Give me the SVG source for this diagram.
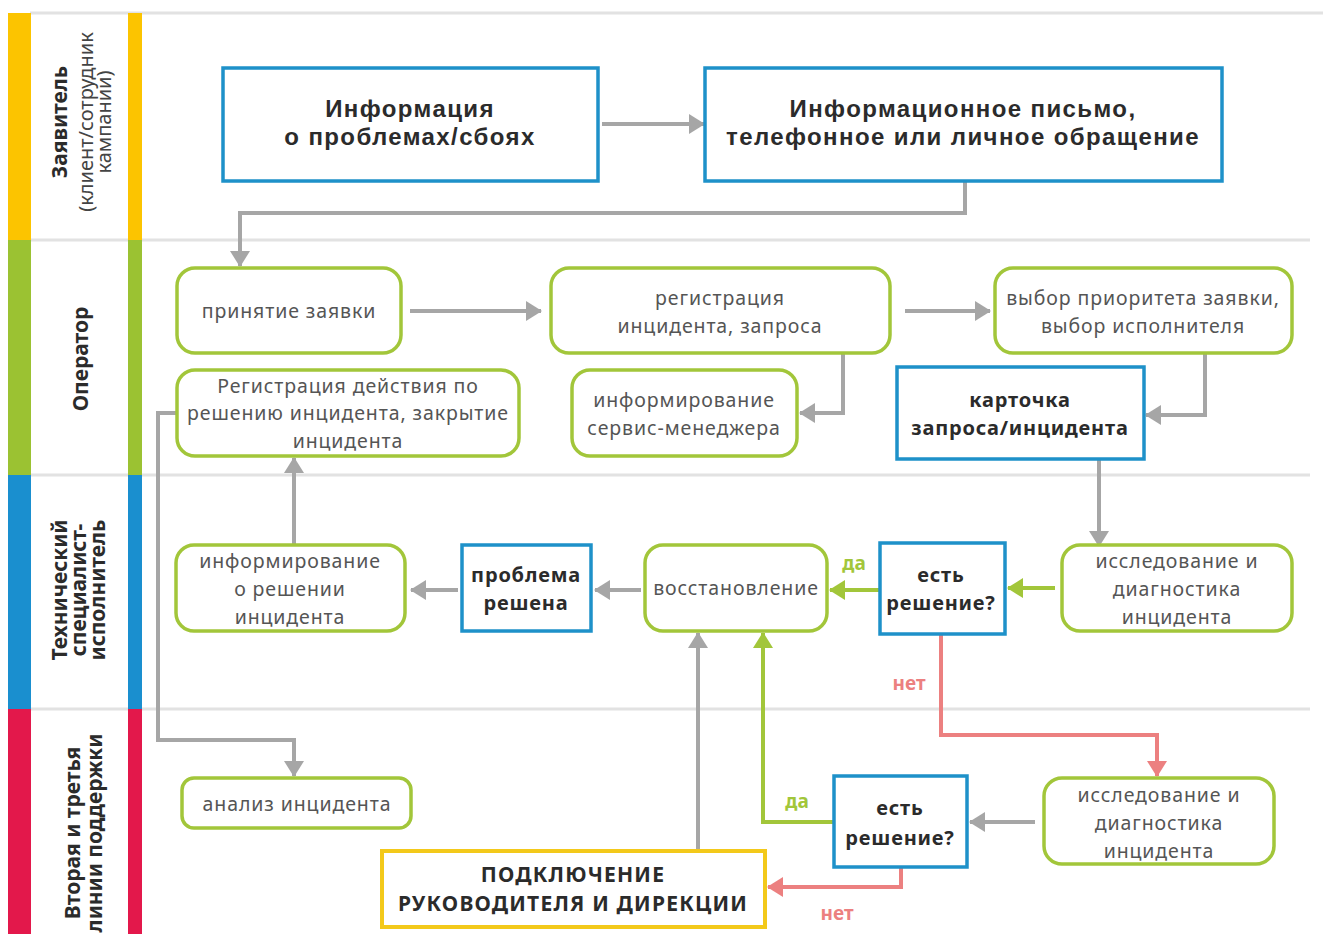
<svg xmlns="http://www.w3.org/2000/svg" width="1323" height="934" viewBox="0 0 1323 934">
<defs>
<style>
.t{font-family:"Noto Sans","Open Sans","Liberation Sans",sans-serif;font-size:19.5px;letter-spacing:0.9px;fill:#555;text-anchor:middle}
.b{font-family:"Noto Sans","Open Sans","Liberation Sans",sans-serif;font-size:20px;letter-spacing:0.8px;font-weight:bold;fill:#2b2b2b;text-anchor:middle}
.cap{font-family:"Noto Sans","Open Sans","Liberation Sans",sans-serif;font-size:21px;letter-spacing:1.2px;font-weight:bold;fill:#2b2b2b;text-anchor:middle}
.big{font-family:"Liberation Sans","Noto Sans",sans-serif;font-size:24px;letter-spacing:1.4px;font-weight:bold;fill:#2b2b2b;text-anchor:middle}
.lane{font-family:"Noto Sans","Open Sans","Liberation Sans",sans-serif;font-size:21px;font-weight:bold;fill:#2b2b2b;text-anchor:middle}
.lanes{font-family:"Noto Sans","Open Sans","Liberation Sans",sans-serif;font-size:20px;fill:#444;text-anchor:middle}
.g{fill:#fff;stroke:#a2c63a;stroke-width:3.5}
.bl{fill:#fff;stroke:#1e91c9;stroke-width:3.5}
.ye{fill:#fff;stroke:#f3c91a;stroke-width:4}
.cg{fill:none;stroke:#a6a6a6;stroke-width:4;marker-end:url(#ag)}
.cgr{fill:none;stroke:#a2c63a;stroke-width:4;marker-end:url(#agr)}
.cp{fill:none;stroke:#ec8080;stroke-width:4;marker-end:url(#ap)}
.sep{stroke:#e2e2e2;stroke-width:3}
.lg{font-family:"Noto Sans","Open Sans","Liberation Sans",sans-serif;font-size:19px;font-weight:bold;text-anchor:middle}
</style>
<marker id="ag" viewBox="0 0 16 20" refX="15" refY="10" markerWidth="16" markerHeight="20" markerUnits="userSpaceOnUse" orient="auto"><path d="M0,0 L16,10 L0,20 z" fill="#a6a6a6"/></marker>
<marker id="agr" viewBox="0 0 16 20" refX="15" refY="10" markerWidth="16" markerHeight="20" markerUnits="userSpaceOnUse" orient="auto"><path d="M0,0 L16,10 L0,20 z" fill="#a2c63a"/></marker>
<marker id="ap" viewBox="0 0 16 20" refX="15" refY="10" markerWidth="16" markerHeight="20" markerUnits="userSpaceOnUse" orient="auto"><path d="M0,0 L16,10 L0,20 z" fill="#ec8080"/></marker>
</defs>
<rect width="1323" height="934" fill="#fff"/>
<g id="lanes">
<line x1="30" y1="13" x2="1323" y2="13" class="sep" stroke-width="2"/>
<line x1="30" y1="240" x2="1310" y2="240" class="sep"/>
<line x1="30" y1="475" x2="1310" y2="475" class="sep"/>
<line x1="30" y1="709" x2="1310" y2="709" class="sep"/>
<rect x="8" y="13" width="23" height="227" fill="#fcc400"/>
<rect x="8" y="240" width="23" height="235" fill="#9bc232"/>
<rect x="8" y="475" width="23" height="234" fill="#1a8fcf"/>
<rect x="8" y="709" width="23" height="225" fill="#e3184b"/>
<rect x="128" y="13" width="14" height="227" fill="#fcc400"/>
<rect x="128" y="240" width="14" height="235" fill="#9bc232"/>
<rect x="128" y="475" width="14" height="234" fill="#1a8fcf"/>
<rect x="128" y="709" width="14" height="225" fill="#e3184b"/>
<text class="lane" transform="translate(67,122) rotate(-90)">Заявитель</text>
<text class="lanes" transform="translate(93,122) rotate(-90)">(клиент/сотрудник</text>
<text class="lanes" transform="translate(111,122) rotate(-90)">кампании)</text>
<text class="lane" transform="translate(88,359) rotate(-90)">Оператор</text>
<text class="lane" transform="translate(67,590) rotate(-90)">Технический</text>
<text class="lane" transform="translate(86,590) rotate(-90)">специалист-</text>
<text class="lane" transform="translate(105,590) rotate(-90)">исполнитель</text>
<text class="lane" font-size="22" transform="translate(80,833) rotate(-90)">Вторая и третья</text>
<text class="lane" font-size="22" transform="translate(102,833) rotate(-90)">линии поддержки</text>
</g>
<g id="connectors">
<path class="cg" d="M602,124 H704"/>
<path class="cg" d="M965,182 V213 H240 V266"/>
<path class="cg" d="M410,311 H541"/>
<path class="cg" d="M905,311 H990"/>
<path class="cg" d="M843,354 V413 H800"/>
<path class="cg" d="M1205,354 V415 H1146"/>
<path class="cg" d="M1099,460 V546"/>
<path class="cgr" d="M1055,588 H1008"/>
<path class="cgr" d="M880,590 H830"/>
<path class="cg" d="M641,590 H595"/>
<path class="cg" d="M458,590 H411"/>
<path class="cg" d="M294,545 V458"/>
<path class="cg" d="M177,413 H158 V740 H294 V776"/>
<path class="cg" d="M698,851 V633"/>
<path class="cgr" d="M834,822 H763 V633"/>
<path class="cg" d="M1035,822 H970"/>
<path class="cp" d="M941,635 V735 H1157 V776"/>
<path class="cp" d="M901,868 V887 H768"/>
<text class="lg" x="854" y="570" fill="#a2c63a">да</text>
<text class="lg" x="909" y="690" fill="#ec8080">нет</text>
<text class="lg" x="797" y="808" fill="#a2c63a">да</text>
<text class="lg" x="837" y="920" fill="#ec8080">нет</text>
</g>
<g id="n1"><rect class="bl" x="223" y="68" width="375" height="113"/><text class="big" x="410" y="117">Информация</text><text class="big" x="410" y="145">о проблемах/сбоях</text></g>
<g id="n2"><rect class="bl" x="705" y="68" width="517" height="113"/><text class="big" x="963" y="117">Информационное письмо,</text><text class="big" x="963" y="145">телефонное или личное обращение</text></g>
<g id="n3"><rect class="g" x="177" y="268" width="224" height="85" rx="18"/><text class="t" x="289" y="318">принятие заявки</text></g>
<g id="n4"><rect class="g" x="551" y="268" width="339" height="85" rx="18"/><text class="t" x="720" y="305">регистрация</text><text class="t" x="720" y="333">инцидента, запроса</text></g>
<g id="n5"><rect class="g" x="995" y="268" width="297" height="85" rx="18"/><text class="t" x="1143" y="305">выбор приоритета заявки,</text><text class="t" x="1143" y="333">выбор исполнителя</text></g>
<g id="n6"><rect class="g" x="177" y="370" width="342" height="86" rx="18"/><text class="t" x="348" y="393">Регистрация действия по</text><text class="t" x="348" y="420">решению инцидента, закрытие</text><text class="t" x="348" y="448">инцидента</text></g>
<g id="n7"><rect class="g" x="572" y="370" width="225" height="86" rx="18"/><text class="t" x="684" y="407">информирование</text><text class="t" x="684" y="435">сервис-менеджера</text></g>
<g id="n8"><rect class="bl" x="897" y="367" width="247" height="92"/><text class="b" x="1020" y="407">карточка</text><text class="b" x="1020" y="435">запроса/инцидента</text></g>
<g id="n9"><rect class="g" x="1062" y="545" width="230" height="86" rx="18"/><text class="t" x="1177" y="568">исследование и</text><text class="t" x="1177" y="596">диагностика</text><text class="t" x="1177" y="624">инцидента</text></g>
<g id="n10"><rect class="bl" x="880" y="543" width="125" height="91"/><text class="b" x="941" y="582">есть</text><text class="b" x="941" y="610">решение?</text></g>
<g id="n11"><rect class="g" x="645" y="545" width="182" height="86" rx="18"/><text class="t" x="736" y="595" letter-spacing="0">восстановление</text></g>
<g id="n12"><rect class="bl" x="462" y="545" width="129" height="86"/><text class="b" x="526" y="582">проблема</text><text class="b" x="526" y="610">решена</text></g>
<g id="n13"><rect class="g" x="176" y="545" width="229" height="86" rx="18"/><text class="t" x="290" y="568">информирование</text><text class="t" x="290" y="596">о решении</text><text class="t" x="290" y="624">инцидента</text></g>
<g id="n14"><rect class="g" x="182" y="778" width="229" height="50" rx="12"/><text class="t" x="297" y="811">анализ инцидента</text></g>
<g id="n15"><rect class="ye" x="382" y="851" width="383" height="76"/><text class="cap" x="573" y="882">ПОДКЛЮЧЕНИЕ</text><text class="cap" x="573" y="911">РУКОВОДИТЕЛЯ И ДИРЕКЦИИ</text></g>
<g id="n16"><rect class="bl" x="834" y="776" width="133" height="91"/><text class="b" x="900" y="815">есть</text><text class="b" x="900" y="845">решение?</text></g>
<g id="n17"><rect class="g" x="1044" y="778" width="230" height="86" rx="18"/><text class="t" x="1159" y="802">исследование и</text><text class="t" x="1159" y="830">диагностика</text><text class="t" x="1159" y="858">инцидента</text></g>
</svg>
